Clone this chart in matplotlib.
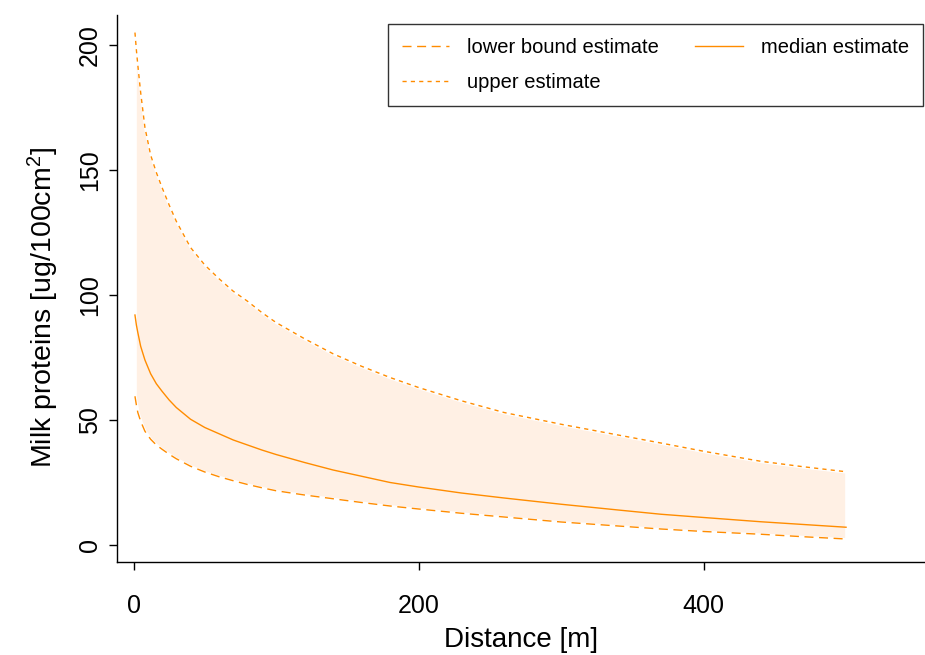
import numpy as np
import matplotlib.pyplot as plt

plt.rcParams['font.family'] = ['Liberation Sans', 'DejaVu Sans']
plt.rcParams['mathtext.fontset'] = 'custom'
plt.rcParams['mathtext.rm'] = 'Liberation Sans'
plt.rcParams['mathtext.it'] = 'Liberation Sans'

# values
distance = [1, 2, 3, 5, 8, 12, 16, 20, 25, 30, 40, 50, 60, 70, 80, 90, 100, 120, 140,
            160, 180, 200, 230, 260, 300, 340, 370, 400, 440, 470, 500]
upper = [205, 198, 192, 181, 167, 156, 149, 143, 136, 129.5, 119, 112, 106.5, 101.5, 97.5, 93,
         89, 82.5, 76.5, 71.5, 67, 63, 57.7, 53, 48.3, 44, 40.8, 37.5, 33.5, 31.3, 29.3]
median = [92, 88, 85, 79.5, 74, 68.5, 64.5, 61.5, 58, 55, 50.3, 47, 44.5, 42, 40, 38,
          36.2, 33, 30, 27.5, 25, 23.2, 20.8, 18.8, 16.3, 14, 12.3, 11, 9.3, 8.2, 7.1]
lower = [59.5, 56, 53, 49.5, 45.5, 42.3, 40, 38.3, 36.3, 34.5, 31.5, 29.2, 27.3, 25.7, 24.2, 22.9,
         21.7, 20, 18.5, 17, 15.6, 14.4, 12.7, 11.2, 9.2, 7.6, 6.4, 5.4, 4.3, 3.3, 2.4]

col = '#FF8C00'

fig = plt.figure(figsize=(9.25, 6.55), dpi=100)
ax = fig.add_axes([0.1268, 0.1424, 0.8732, 0.8346])

ax.fill_between(distance, lower, upper, facecolor='#FFF0E4', edgecolor='white', lw=2)
ax.plot(distance, lower, color=col, lw=1, dashes=(6.5, 4), label='lower bound estimate')
ax.plot(distance, upper, color=col, lw=1, dashes=(3, 3), label='upper estimate')
ax.plot(distance, median, color=col, lw=1, label='median estimate')

ax.set_xlim(-11.4, 555.4)
ax.set_ylim(-6.7, 212)
ax.set_xticks([0, 200, 400])
ax.set_yticks([0, 50, 100, 150, 200])
ax.spines['top'].set_visible(False)
ax.spines['right'].set_visible(False)
for s in ['left', 'bottom']:
    ax.spines[s].set_linewidth(1)
ax.tick_params(direction='out', length=5.5, width=1, labelsize=18)
ax.tick_params(axis='x', pad=18)
ax.tick_params(axis='y', pad=5.5)
for lab in ax.get_yticklabels():
    lab.set_rotation(90)
    lab.set_va('center')

ax.set_xlabel('Distance [m]', fontsize=20, labelpad=6)
ax.set_ylabel('Milk proteins [ug/100cm$^{2}$]', fontsize=20.5, labelpad=12)
ax.yaxis.label.set_y(0.465)

leg = ax.legend(ncol=2, loc='upper right', bbox_to_anchor=(0.9975, 0.9835), fontsize=14.5,
                frameon=True, fancybox=False, edgecolor='#333333', framealpha=1,
                handlelength=2.35, columnspacing=1.8, handletextpad=0.9,
                borderpad=0.7, labelspacing=0.8, borderaxespad=0)
leg.get_frame().set_linewidth(1)

fig.savefig('out.png', dpi=100)
